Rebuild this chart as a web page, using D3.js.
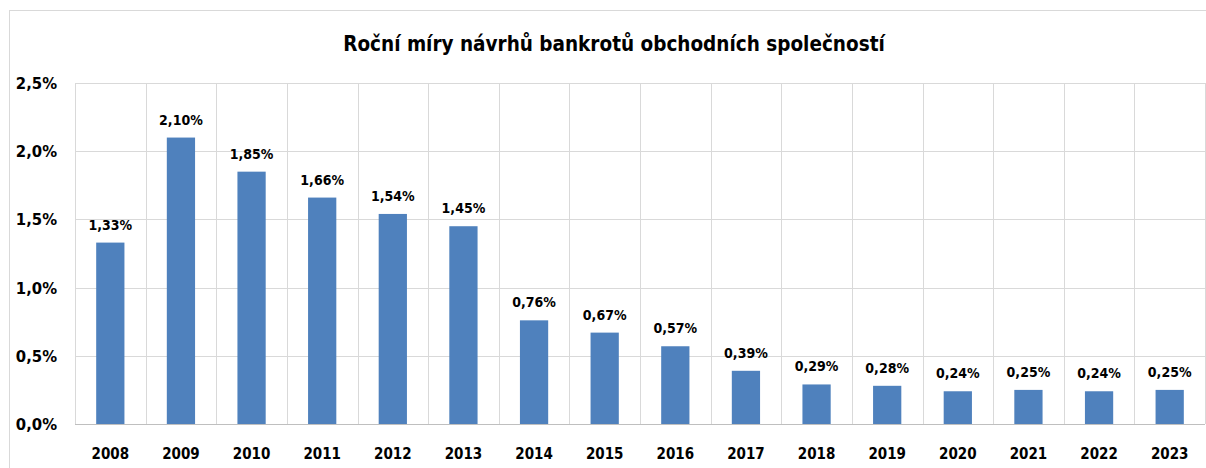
<!DOCTYPE html>
<html>
<head>
<meta charset="utf-8">
<script src="https://cdn.jsdelivr.net/npm/d3@7"></script>
<style>
  body { margin: 0; background: #fff; }
  svg text { font-family: "DejaVu Sans Condensed", "DejaVu Sans", Arial, sans-serif; font-weight: bold; fill: #000; }
</style>
</head>
<body>
<div id="chart"></div>
<script>
// data
const years = ['2008', '2009', '2010', '2011', '2012', '2013', '2014', '2015',
               '2016', '2017', '2018', '2019', '2020', '2021', '2022', '2023'];
const rates = [1.33, 2.10, 1.85, 1.66, 1.54, 1.45, 0.76, 0.67,
               0.57, 0.39, 0.29, 0.28, 0.24, 0.25, 0.24, 0.25];
const yTicks = [0, 0.5, 1.0, 1.5, 2.0, 2.5];
const title = 'Roční míry návrhů bankrotů obchodních společností';

let width = 1206,
    height = 468,
    margin = {top: 83, right: 1, bottom: 44, left: 75};

const fmt = (v, d) => v.toFixed(d).replace('.', ',') + '%';

let svg = d3.select('#chart')
  .append('svg')
  .attr('width', width)
  .attr('height', height);

// outer chart frame
svg.append('rect')
  .attr('x', 9.5).attr('y', 10.5)
  .attr('width', width + 10).attr('height', height + 10)
  .attr('fill', 'none')
  .attr('stroke', '#d9d9d9');

let x = d3.scaleBand()
  .domain(years)
  .range([margin.left, width - margin.right])
  .paddingInner(0.6)
  .paddingOuter(0.3);

let y = d3.scaleLinear()
  .domain([0, 2.5])
  .range([height - margin.bottom, margin.top]);

svg.append('text')
  .attr('x', 614)
  .attr('y', 51)
  .attr('text-anchor', 'middle')
  .style('font-size', '20.5px')
  .text(title);

// horizontal grid
svg.append('g')
  .selectAll('line')
  .data(yTicks)
  .enter().append('line')
  .attr('x1', margin.left).attr('x2', width - margin.right)
  .attr('y1', d => Math.round(y(d)) + 0.5)
  .attr('y2', d => Math.round(y(d)) + 0.5)
  .attr('stroke', '#d9d9d9');

// vertical grid between categories
let edges = d3.range(years.length + 1).map(i => margin.left + i * (width - margin.left - margin.right) / years.length);
svg.append('g')
  .selectAll('line')
  .data(edges)
  .enter().append('line')
  .attr('x1', d => Math.round(d) + 0.5).attr('x2', d => Math.round(d) + 0.5)
  .attr('y1', margin.top).attr('y2', y(0))
  .attr('stroke', '#d9d9d9');

// baseline
svg.append('line')
  .attr('x1', margin.left).attr('x2', width - margin.right)
  .attr('y1', Math.round(y(0)) + 0.5).attr('y2', Math.round(y(0)) + 0.5)
  .attr('stroke', '#bfbfbf');

// y axis labels
svg.append('g')
  .selectAll('text')
  .data(yTicks)
  .enter().append('text')
  .attr('x', 57)
  .attr('y', d => y(d))
  .attr('dy', '0.36em')
  .attr('text-anchor', 'end')
  .style('font-size', '16.5px')
  .text(d => fmt(d, 1));

// bars
svg.append('g')
  .selectAll('rect')
  .data(rates)
  .enter().append('rect')
  .attr('x', (d, i) => x(years[i]))
  .attr('y', d => y(d))
  .attr('width', x.bandwidth())
  .attr('height', d => y(0) - y(d))
  .attr('fill', '#4f81bd');

// value labels
svg.append('g')
  .selectAll('text')
  .data(rates)
  .enter().append('text')
  .attr('x', (d, i) => x(years[i]) + x.bandwidth() / 2)
  .attr('y', d => y(d) - 13)
  .attr('text-anchor', 'middle')
  .style('font-size', '14px')
  .text(d => fmt(d, 2));

// year labels
svg.append('g')
  .selectAll('text')
  .data(years)
  .enter().append('text')
  .attr('x', d => x(d) + x.bandwidth() / 2)
  .attr('y', 459)
  .attr('text-anchor', 'middle')
  .style('font-size', '15px')
  .text(d => d);
</script>
</body>
</html>
